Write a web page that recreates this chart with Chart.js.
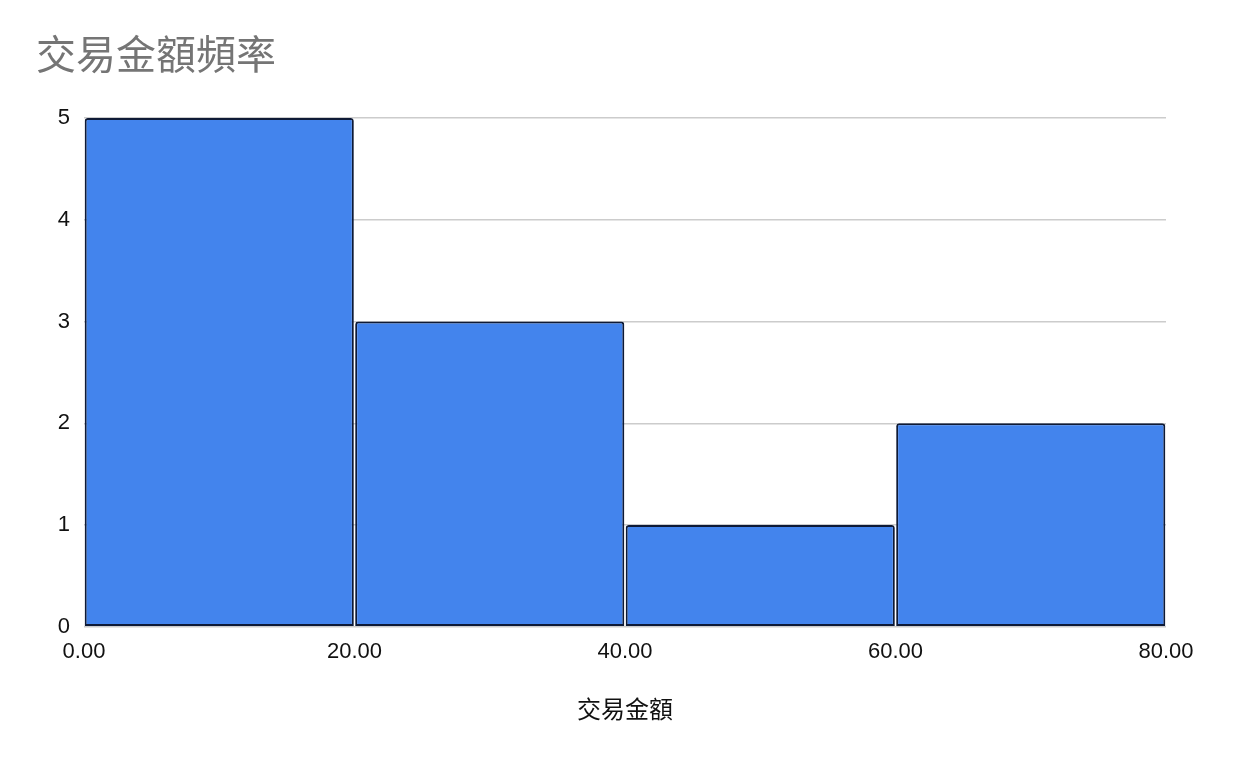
<!DOCTYPE html>
<html>
<head>
<meta charset="utf-8">
<script src="https://cdn.jsdelivr.net/npm/chart.js@4/dist/chart.umd.min.js"></script>
<style>
  html, body { margin: 0; padding: 0; background: #fff; }
  #wrap { width: 1242px; height: 764px; }
</style>
</head>
<body>
<div id="wrap"><canvas id="histChart"></canvas></div>
<script>
// Bin edges and counts
const binStarts = [0, 20, 40, 60];
const binEnds = [20, 40, 60, 80];
const counts = [5, 3, 1, 2];
const xTicks = [0, 20, 40, 60, 80];
const yTicks = [0, 1, 2, 3, 4, 5];

const titleText = '交易金額頻率';
const xTitleText = '交易金額';

const fontFamily = '"Liberation Sans", Arial, "Noto Sans CJK TC", sans-serif';

// bar centred in each bin on a linear x scale
const points = binStarts.map((s, i) => ({ x: (s + binEnds[i]) / 2, y: counts[i] }));

const ctx = document.getElementById('histChart').getContext('2d');
const histChart = new Chart(ctx, {
    type: 'bar',
    data: {
        datasets: [{
            label: titleText,
            data: points,
            backgroundColor: '#4384ED',
            borderColor: '#0E1A36',
            borderWidth: 2,
            borderSkipped: false,
            borderRadius: { topLeft: 3, topRight: 3, bottomLeft: 0, bottomRight: 0 },
            barPercentage: 0.995,
            categoryPercentage: 1.0
        }]
    },
    options: {
        responsive: true,
        maintainAspectRatio: false,
        animation: false,
        layout: {
            padding: { left: 36, right: 76, top: 0, bottom: 38 }
        },
        scales: {
            x: {
                type: 'linear',
                offset: false,
                min: xTicks[0],
                max: xTicks[xTicks.length - 1],
                afterBuildTicks: scale => { scale.ticks = xTicks.map(v => ({ value: v })); },
                grid: { display: false, offset: false },
                border: { display: false },
                ticks: {
                    color: '#111',
                    font: { family: fontFamily, size: 22 },
                    padding: 4,
                    maxRotation: 0,
                    callback: v => Number(v).toFixed(2)
                },
                title: {
                    display: true,
                    text: xTitleText,
                    color: '#111',
                    font: { family: fontFamily, size: 24 },
                    padding: { top: 28, bottom: 0 }
                }
            },
            y: {
                min: yTicks[0],
                max: yTicks[yTicks.length - 1],
                afterBuildTicks: scale => { scale.ticks = yTicks.map(v => ({ value: v })); },
                afterFit: scale => { scale.width = 48; },
                grid: { color: '#CCCCCC', lineWidth: 1.5, drawTicks: false },
                border: { display: false },
                ticks: {
                    color: '#111',
                    font: { family: fontFamily, size: 22 },
                    padding: 14
                }
            }
        },
        plugins: {
            legend: { display: false },
            tooltip: { enabled: false },
            title: {
                display: true,
                text: titleText,
                align: 'start',
                color: '#757575',
                font: { family: fontFamily, size: 40, weight: 'normal' },
                padding: { top: 34, bottom: 36 }
            }
        }
    }
});
</script>
</body>
</html>
